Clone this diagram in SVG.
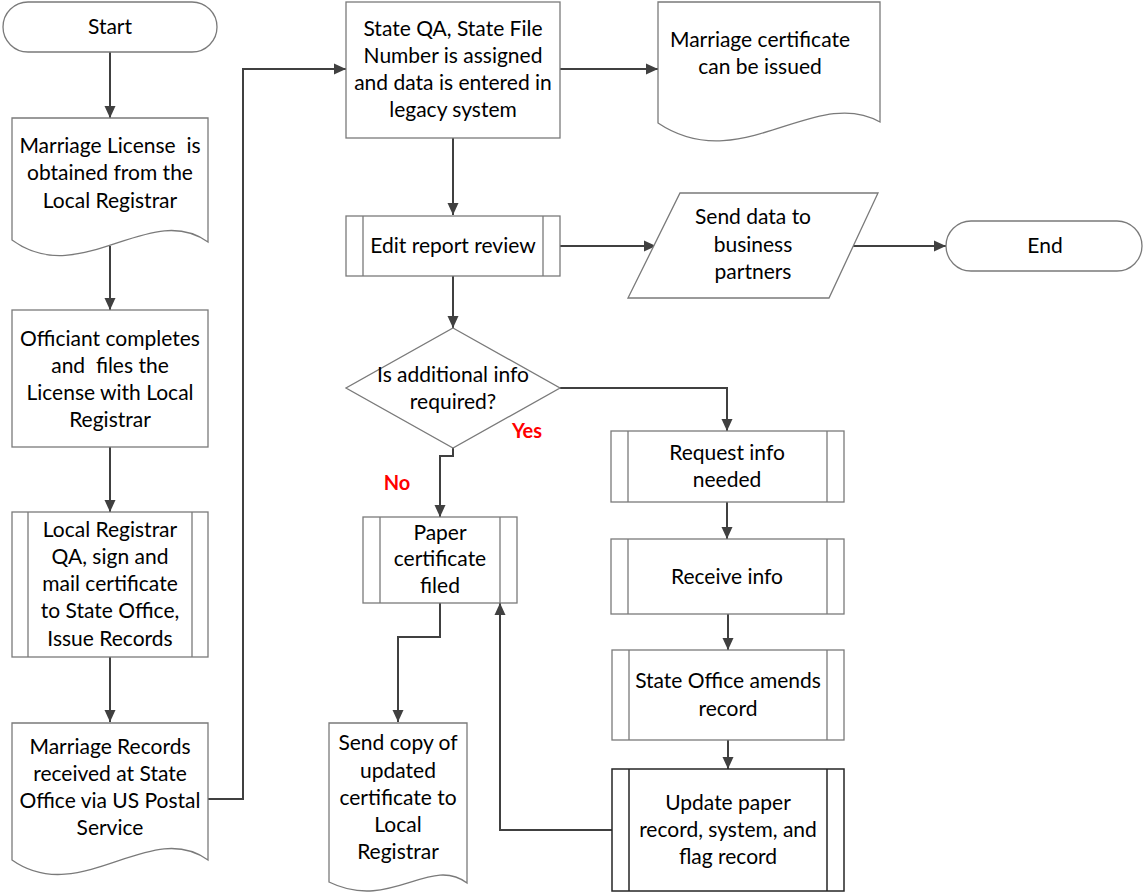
<svg xmlns="http://www.w3.org/2000/svg" width="1144" height="894" viewBox="0 0 1144 894">
  <style>
    .shape { fill: #ffffff; stroke: #7a7a7a; stroke-width: 1.3; }
    .bold-shape { fill: #ffffff; stroke: #262626; stroke-width: 1.5; }
    .bar { fill: none; stroke: #7a7a7a; stroke-width: 1.3; }
    .bold-bar { fill: none; stroke: #262626; stroke-width: 1.5; }
    .label { font-family: Lato, "Liberation Sans", sans-serif; font-size: 21px; fill: #000000; text-anchor: middle; white-space: pre; }
    .branch { font-family: Lato, "Liberation Sans", sans-serif; font-size: 20px; font-weight: bold; fill: #ff0000; text-anchor: middle; }
    .wire { fill: none; stroke: #404040; stroke-width: 2; marker-end: url(#arrow); }
  </style>
  <defs>
    <marker id="arrow" markerUnits="userSpaceOnUse" markerWidth="14" markerHeight="14" viewBox="0 0 14 14" refX="13" refY="7" orient="auto">
      <path d="M1,1.5 L13,7 L1,12.5 Z" fill="#404040"/>
    </marker>
  </defs>

  <!-- connectors -->
  <g id="connectors">
    <path class="wire" d="M110,52 V118"/>
    <path class="wire" d="M110,246 V310"/>
    <path class="wire" d="M110,447 V512"/>
    <path class="wire" d="M110,657 V722"/>
    <path class="wire" d="M208,799 H243 V69 H346"/>
    <path class="wire" d="M560,69 H658"/>
    <path class="wire" d="M453,138 V215"/>
    <path class="wire" d="M560,246 H656"/>
    <path class="wire" d="M843,246 H946"/>
    <path class="wire" d="M453,276 V328"/>
    <path class="wire" d="M453,448 V456 H440 V517"/>
    <path class="wire" d="M560,388 H727 V431"/>
    <path class="wire" d="M440,603 V637 H398 V722"/>
    <path class="wire" d="M612,830 H500 V603"/>
    <path class="wire" d="M727,502 V539"/>
    <path class="wire" d="M728,614 V650"/>
    <path class="wire" d="M728,740 V769"/>
  </g>

  <g id="start">
    <rect class="shape" x="3" y="2" width="214" height="50" rx="25" ry="25"/>
    <text class="label" x="110" y="34">Start</text>
  </g>

  <g id="license-obtained">
    <path class="shape" d="M12,118 H208 V242 C150,200 80,290 12,240 Z"/>
    <text class="label" x="110" y="153" xml:space="preserve">Marriage License  is</text>
    <text class="label" x="110" y="180">obtained from the</text>
    <text class="label" x="110" y="208">Local Registrar</text>
  </g>

  <g id="officiant-files">
    <rect class="shape" x="12" y="310" width="196" height="137"/>
    <text class="label" x="110" y="346">Officiant completes</text>
    <text class="label" x="110" y="373" xml:space="preserve">and  files the</text>
    <text class="label" x="110" y="400">License with Local</text>
    <text class="label" x="110" y="427">Registrar</text>
  </g>

  <g id="local-registrar-qa">
    <rect class="shape" x="12" y="512" width="196" height="145"/>
    <path class="bar" d="M28,512 V657 M192,512 V657"/>
    <text class="label" x="110" y="537">Local Registrar</text>
    <text class="label" x="110" y="564">QA, sign and</text>
    <text class="label" x="110" y="591">mail certificate</text>
    <text class="label" x="110" y="618">to State Office,</text>
    <text class="label" x="110" y="646">Issue Records</text>
  </g>

  <g id="records-received">
    <path class="shape" d="M12,723 H208 V860 C150,818 80,908 12,860 Z"/>
    <text class="label" x="110" y="754">Marriage Records</text>
    <text class="label" x="110" y="781">received at State</text>
    <text class="label" x="110" y="808">Office via US Postal</text>
    <text class="label" x="110" y="835">Service</text>
  </g>

  <g id="state-qa">
    <rect class="shape" x="346" y="2" width="214" height="136"/>
    <text class="label" x="453" y="36">State QA, State File</text>
    <text class="label" x="453" y="63">Number is assigned</text>
    <text class="label" x="453" y="90">and data is entered in</text>
    <text class="label" x="453" y="117">legacy system</text>
  </g>

  <g id="certificate-issued">
    <path class="shape" d="M658,2 H880 V122 C815,85 740,178 658,123 Z"/>
    <text class="label" x="760" y="47">Marriage certificate</text>
    <text class="label" x="760" y="74">can be issued</text>
  </g>

  <g id="edit-report">
    <rect class="shape" x="346" y="216" width="214" height="60"/>
    <path class="bar" d="M363,216 V276 M543,216 V276"/>
    <text class="label" x="453" y="253">Edit report review</text>
  </g>

  <g id="send-data">
    <path class="shape" d="M680,193 H878 L829,298 H628 Z"/>
    <text class="label" x="753" y="224">Send data to</text>
    <text class="label" x="753" y="252">business</text>
    <text class="label" x="753" y="279">partners</text>
  </g>

  <g id="end">
    <rect class="shape" x="946" y="221" width="196" height="50" rx="25" ry="25"/>
    <text class="label" x="1045" y="253">End</text>
  </g>

  <g id="info-decision">
    <path class="shape" d="M453,328 L560,388 L453,448 L346,388 Z"/>
    <text class="label" x="453" y="382">Is additional info</text>
    <text class="label" x="453" y="409">required?</text>
    <text class="branch" x="527" y="438">Yes</text>
    <text class="branch" x="397" y="490">No</text>
  </g>

  <g id="paper-filed">
    <rect class="shape" x="363" y="517" width="154" height="86"/>
    <path class="bar" d="M380,517 V603 M500,517 V603"/>
    <text class="label" x="440" y="540">Paper</text>
    <text class="label" x="440" y="566">certificate</text>
    <text class="label" x="440" y="593">filed</text>
  </g>

  <g id="send-copy">
    <path class="shape" d="M329,723 H467 V883 C430,855 390,912 329,882 Z"/>
    <text class="label" x="398" y="750">Send copy of</text>
    <text class="label" x="398" y="778">updated</text>
    <text class="label" x="398" y="805">certificate to</text>
    <text class="label" x="398" y="832">Local</text>
    <text class="label" x="398" y="859">Registrar</text>
  </g>

  <g id="request-info">
    <rect class="shape" x="611" y="431" width="233" height="71"/>
    <path class="bar" d="M628,431 V502 M827,431 V502"/>
    <text class="label" x="727" y="460">Request info</text>
    <text class="label" x="727" y="487">needed</text>
  </g>

  <g id="receive-info">
    <rect class="shape" x="611" y="539" width="233" height="75"/>
    <path class="bar" d="M628,539 V614 M827,539 V614"/>
    <text class="label" x="727" y="584">Receive info</text>
  </g>

  <g id="amends-record">
    <rect class="shape" x="612" y="650" width="232" height="90"/>
    <path class="bar" d="M629,650 V740 M827,650 V740"/>
    <text class="label" x="728" y="688">State Office amends</text>
    <text class="label" x="728" y="716">record</text>
  </g>

  <g id="update-record">
    <rect class="bold-shape" x="612" y="769" width="232" height="122"/>
    <path class="bold-bar" d="M629,769 V891 M827,769 V891"/>
    <text class="label" x="728" y="810">Update paper</text>
    <text class="label" x="728" y="837">record, system, and</text>
    <text class="label" x="728" y="864">flag record</text>
  </g>
</svg>
